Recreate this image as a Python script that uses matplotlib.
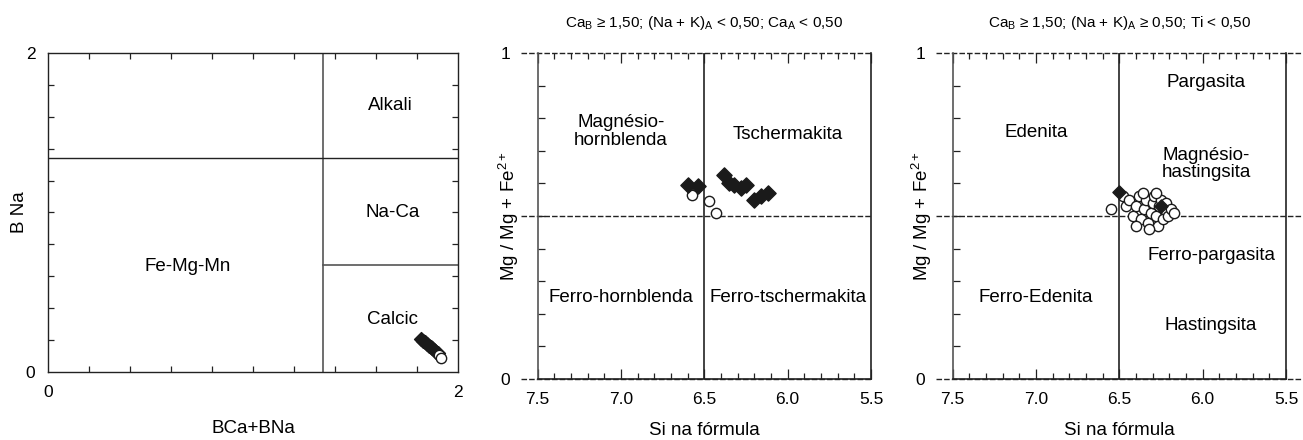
import matplotlib
matplotlib.use("Agg")
import matplotlib.pyplot as plt
import numpy as np

plt.rcParams['font.family'] = ['Liberation Sans', 'DejaVu Sans']
plt.rcParams['mathtext.fontset'] = 'custom'
plt.rcParams['mathtext.rm'] = 'Liberation Sans'
plt.rcParams['mathtext.it'] = 'Liberation Sans'

# --- panel 1: group classification (BCa+BNa vs BNa)
grp_dia_x = [1.82, 1.83, 1.84, 1.85, 1.86, 1.87, 1.875, 1.885, 1.89, 1.90]
grp_dia_y = [0.205, 0.195, 0.185, 0.175, 0.165, 0.155, 0.15, 0.14, 0.13, 0.12]
grp_cir_x = [1.905, 1.915]
grp_cir_y = [0.105, 0.09]
grp_labels = ["Alkali", "Na-Ca", "Calcic", "Fe-Mg-Mn"]

# --- panel 2: CaA < 0.50
p2_dia_si = [6.60, 6.54, 6.38, 6.35, 6.32, 6.28, 6.25, 6.20, 6.16, 6.12]
p2_dia_mg = [0.595, 0.592, 0.625, 0.600, 0.595, 0.585, 0.595, 0.550, 0.560, 0.570]
p2_cir_si = [6.575, 6.47, 6.43]
p2_cir_mg = [0.564, 0.545, 0.510]
p2_labels = ["Magnésio-\nhornblenda", "Tschermakita", "Ferro-hornblenda", "Ferro-tschermakita"]

# --- panel 3: (Na+K)A >= 0.50
p3_cir_si = [6.55, 6.48, 6.46, 6.44, 6.42, 6.40, 6.38, 6.37, 6.35, 6.34, 6.33, 6.31,
             6.30, 6.29, 6.28, 6.27, 6.26, 6.25, 6.24, 6.23, 6.22, 6.21, 6.19, 6.17,
             6.40, 6.36, 6.32, 6.28]
p3_cir_mg = [0.52, 0.56, 0.53, 0.55, 0.50, 0.53, 0.56, 0.49, 0.52, 0.55, 0.48, 0.51,
             0.54, 0.56, 0.50, 0.47, 0.53, 0.55, 0.49, 0.52, 0.54, 0.50, 0.52, 0.51,
             0.47, 0.57, 0.46, 0.57]
p3_dia_si = [6.50, 6.25]
p3_dia_mg = [0.575, 0.53]
p3_labels = ["Pargasita", "Edenita", "Magnésio-\nhastingsita", "Ferro-pargasita",
             "Ferro-Edenita", "Hastingsita"]

title2 = r"Ca$_\mathregular{B}$ ≥ 1,50; (Na + K)$_\mathregular{A}$ < 0,50; Ca$_\mathregular{A}$ < 0,50"
title3 = r"Ca$_\mathregular{B}$ ≥ 1,50; (Na + K)$_\mathregular{A}$ ≥ 0,50; Ti < 0,50"
ylab = r"Mg / Mg + Fe$^\mathregular{2+}$"

FS = 13.5      # region / axis labels
TS = 12.5      # tick labels
HS = 11        # titles
LC = '#222222'

fig = plt.figure(figsize=(13.03, 4.40), dpi=100)

# ---------------- panel 1
ax1 = fig.add_axes([48/1303, 68/440, 410/1303, 319/440])
ax1.set_xlim(0, 2)
ax1.set_ylim(0, 2)
ax1.set_xticks([0, 2])
ax1.set_yticks([0, 2])
ax1.set_xticks(np.arange(0, 2.01, 0.2), minor=True)
ax1.set_yticks(np.arange(0, 2.01, 0.2), minor=True)
ax1.tick_params(which='both', direction='in', top=True, right=True, labelsize=TS,
                color=LC, width=0.9)
ax1.tick_params(which='major', length=0, pad=9)
ax1.tick_params(which='minor', length=4)
for s in ax1.spines.values():
    s.set_color(LC)
    s.set_linewidth(1.0)
ax1.axvline(1.34, color='#555555', lw=1.2)
ax1.axhline(1.34, color=LC, lw=1.0)
ax1.plot([1.34, 2], [0.67, 0.67], color='#555555', lw=1.2)
ax1.set_xlabel("BCa+BNa", fontsize=FS, labelpad=15)
ax1.set_ylabel("B Na", fontsize=FS)
ax1.yaxis.set_label_coords(-0.048, 0.5)
ax1.scatter(grp_dia_x, grp_dia_y, marker='D', s=50, color='#1a1a1a', zorder=3)
ax1.scatter(grp_cir_x, grp_cir_y, marker='o', s=55, facecolor='white', edgecolor='#1a1a1a',
            linewidth=1.0, zorder=4)
for txt, (x, y) in zip(grp_labels, [(1.67, 1.67), (1.68, 1.0), (1.68, 0.33), (0.68, 0.66)]):
    ax1.text(x, y, txt, ha='center', va='center', fontsize=FS)


def si_panel(ax, x_right, title, ylab_x):
    ax.set_xlim(7.5, 5.5)
    ax.set_ylim(0, 1)
    ax.set_xticks([7.5, 7.0, 6.5, 6.0, 5.5])
    ax.set_xticklabels(["7.5", "7.0", "6.5", "6.0", "5.5"])
    ax.set_xticks(np.arange(5.5, 7.51, 0.1), minor=True)
    ax.set_yticks([0, 1])
    ax.set_yticklabels(["0", "1"])
    ax.set_yticks(np.arange(0, 1.01, 0.1), minor=True)
    ax.tick_params(which='both', direction='in', top=True, right=False, labelsize=TS,
                   color=LC, width=0.9)
    ax.tick_params(axis='x', which='major', length=7, pad=9)
    ax.tick_params(axis='x', which='minor', length=4)
    ax.tick_params(axis='y', which='major', length=0, pad=20)
    ax.tick_params(axis='y', which='minor', length=5)
    ax.spines['top'].set_visible(False)
    for k in ['left', 'right', 'bottom']:
        ax.spines[k].set_color(LC)
        ax.spines[k].set_linewidth(1.2)
    ax.spines['left'].set_color('#555555')
    for yv in [0, 0.5, 1]:
        ax.plot([7.6, x_right], [yv, yv], color=LC, lw=1.0, ls=(0, (4, 1.5)),
                clip_on=False, zorder=2)
    ax.axvline(6.5, color=LC, lw=1.2)
    ax.set_xlabel("Si na fórmula", fontsize=FS, labelpad=11)
    ax.set_ylabel(ylab, fontsize=FS)
    ax.yaxis.set_label_coords(ylab_x, 0.5)
    ax.set_title(title, fontsize=HS, pad=19)


# ---------------- panel 2
ax2 = fig.add_axes([537.7/1303, 61/440, 333.3/1303, 326/440])
si_panel(ax2, 5.5, title2, -0.05)
ax2.scatter(p2_cir_si, p2_cir_mg, marker='o', s=55, facecolor='white', edgecolor='#1a1a1a',
            linewidth=1.0, zorder=3)
ax2.scatter(p2_dia_si, p2_dia_mg, marker='D', s=60, color='#1a1a1a', zorder=4)
for txt, (x, y) in zip(p2_labels, [(7.0, 0.76), (6.0, 0.75), (7.0, 0.25), (6.0, 0.25)]):
    ax2.text(x, y, txt, ha='center', va='center', fontsize=FS, linespacing=1.05)

# ---------------- panel 3
ax3 = fig.add_axes([952.7/1303, 61/440, 333.3/1303, 326/440])
si_panel(ax3, 5.4, title3, -0.056)
ax3.scatter(p3_cir_si, p3_cir_mg, marker='o', s=55, facecolor='white', edgecolor='#1a1a1a',
            linewidth=1.0, zorder=3)
ax3.scatter(p3_dia_si, p3_dia_mg, marker='D', s=45, color='#1a1a1a', zorder=4)
pos3 = [(5.98, 0.91), (7.0, 0.755), (5.98, 0.66), (5.95, 0.38), (7.0, 0.25), (5.95, 0.165)]
for txt, (x, y) in zip(p3_labels, pos3):
    ax3.text(x, y, txt, ha='center', va='center', fontsize=FS, linespacing=1.05)

fig.savefig("out.png", dpi=100)
